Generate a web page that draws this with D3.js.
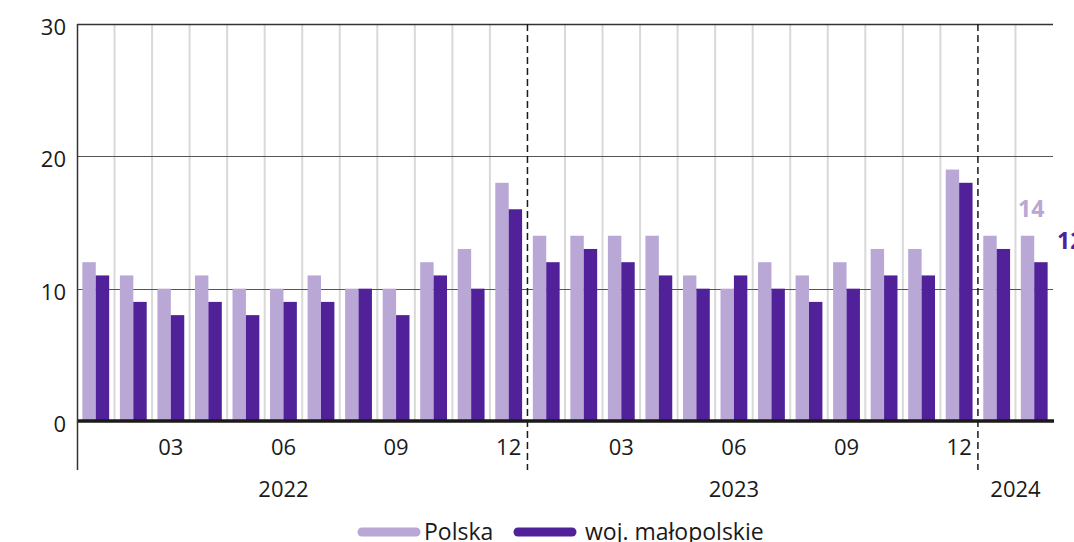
<!DOCTYPE html>
<html>
<head>
<meta charset="utf-8">
<script src="https://cdn.jsdelivr.net/npm/d3@7"></script>
<style>
  body { margin: 0; background: #fff; }
  svg { display: block; font-family: "Open Sans", sans-serif; }
</style>
</head>
<body>
<svg id="chart" width="1074" height="542"></svg>
<script>
// months Jan 2022 - Feb 2024
const months = [
  "2022-01","2022-02","2022-03","2022-04","2022-05","2022-06","2022-07","2022-08","2022-09","2022-10","2022-11","2022-12",
  "2023-01","2023-02","2023-03","2023-04","2023-05","2023-06","2023-07","2023-08","2023-09","2023-10","2023-11","2023-12",
  "2024-01","2024-02"
];
const polska = [12,11,10,11,10,10,11,10,10,12,13,18, 14,14,14,14,11,10,12,11,12,13,13,19, 14,14];
const malopolskie = [11,9,8,9,8,9,9,10,8,11,10,16, 12,13,12,11,10,11,10,9,10,11,11,18, 13,12];
const seriesNames = ["Polska", "woj. małopolskie"];
const yTicks = [0, 10, 20, 30];
const monthTicks = ["03", "06", "09", "12"];
const yearLabels = [
  {label: "2022", from: "2022-06", to: "2022-06"},
  {label: "2023", from: "2023-06", to: "2023-06"},
  {label: "2024", from: "2024-01", to: "2024-02"}
];
const yearBreaks = ["2023-01", "2024-01"];

const lightColor = "#b9a7d6";
const darkColor = "#51219a";
const colors = [lightColor, darkColor];

const margin = {top: 24, left: 77, right: 21, bottom: 121};
const W = 1074, H = 542;
const innerW = W - margin.left - margin.right;
const innerH = H - margin.top - margin.bottom;

const svg = d3.select("#chart");
const g = svg.append("g").attr("transform", `translate(${margin.left},${margin.top})`);

const data = months.map((m, i) => ({month: m, values: [polska[i], malopolskie[i]]}));

// SCALES
const x = d3.scaleBand().domain(months).range([0, innerW]).padding(0);
const xSub = d3.scaleBand().domain([0, 1]).range([0, x.bandwidth()]).paddingInner(0).paddingOuter(0.4);
const y = d3.scaleLinear().domain([0, 30]).range([innerH, 0]);

// vertical month grid
g.selectAll(".vgrid")
  .data(months.slice(1).filter(m => !yearBreaks.includes(m)))
  .join("line")
  .attr("x1", d => x(d)).attr("x2", d => x(d))
  .attr("y1", 0).attr("y2", innerH)
  .attr("stroke", "#d9d9d9").attr("stroke-width", 2);

// horizontal grid
g.selectAll(".hgrid")
  .data(yTicks.filter(t => t > 0))
  .join("line")
  .attr("x1", 0).attr("x2", innerW)
  .attr("y1", d => Math.round(y(d)) + 0.5).attr("y2", d => Math.round(y(d)) + 0.5)
  .attr("stroke", d => d === 30 ? "#333" : "#555")
  .attr("stroke-width", d => d === 30 ? 1.5 : 1);

// y labels
g.selectAll(".ylab")
  .data(yTicks)
  .join("text")
  .attr("x", -11)
  .attr("y", d => y(d) + 11)
  .attr("text-anchor", "end")
  .attr("font-size", 22)
  .attr("fill", "#1a1a1a")
  .text(d => d);

// BARS
const groups = g.selectAll(".grp")
  .data(data)
  .join("g")
  .attr("transform", d => `translate(${x(d.month)},0)`);

groups.selectAll("rect")
  .data(d => d.values)
  .join("rect")
  .attr("x", (d, i) => xSub(i))
  .attr("width", xSub.bandwidth())
  .attr("y", d => y(d))
  .attr("height", d => innerH - y(d))
  .attr("fill", (d, i) => colors[i]);

// zero line
g.append("line")
  .attr("x1", 0).attr("x2", innerW + 1)
  .attr("y1", y(0)).attr("y2", y(0))
  .attr("stroke", "#1a1a1a").attr("stroke-width", 3.5);

// left axis line
g.append("line")
  .attr("x1", 0.5).attr("x2", 0.5)
  .attr("y1", 0).attr("y2", innerH + 49)
  .attr("stroke", "#333").attr("stroke-width", 1.5);

// year dashed separators
g.selectAll(".ybreak")
  .data(yearBreaks)
  .join("line")
  .attr("x1", d => x(d)).attr("x2", d => x(d))
  .attr("y1", 0).attr("y2", innerH + 49)
  .attr("stroke", "#1a1a1a").attr("stroke-width", 1.5)
  .attr("stroke-dasharray", "7,4");

// month tick labels
g.selectAll(".mlab")
  .data(months.filter(m => monthTicks.includes(m.slice(5))))
  .join("text")
  .attr("x", d => x(d) + x.bandwidth() / 2)
  .attr("y", innerH + 34)
  .attr("text-anchor", "middle")
  .attr("font-size", 22)
  .attr("fill", "#1a1a1a")
  .text(d => d.slice(5));

// year labels
g.selectAll(".yearlab")
  .data(yearLabels)
  .join("text")
  .attr("x", d => (x(d.from) + x(d.to) + x.bandwidth()) / 2)
  .attr("y", innerH + 76)
  .attr("text-anchor", "middle")
  .attr("font-size", 22)
  .attr("fill", "#1a1a1a")
  .text(d => d.label);

// last values
const last = data[data.length - 1];
g.append("text")
  .attr("x", x(last.month) + x.bandwidth() / 2 - 3)
  .attr("y", y(last.values[0]) - 19)
  .attr("text-anchor", "middle")
  .attr("font-size", 23).attr("font-weight", "bold")
  .attr("fill", lightColor)
  .text(last.values[0]);

g.append("text")
  .attr("x", x(last.month) + x.bandwidth() + 4)
  .attr("y", y(last.values[1]) - 13)
  .attr("font-size", 23).attr("font-weight", "bold")
  .attr("fill", darkColor)
  .text(last.values[1]);

// LEGEND
const legend = svg.append("g").attr("transform", "translate(358,532)");
const legendX = [0, 156];
seriesNames.forEach((name, i) => {
  legend.append("line")
    .attr("x1", legendX[i] + 4).attr("x2", legendX[i] + 58)
    .attr("y1", 0).attr("y2", 0)
    .attr("stroke", colors[i]).attr("stroke-width", 9)
    .attr("stroke-linecap", "round");
  legend.append("text")
    .attr("x", legendX[i] + (i === 0 ? 66 : 71))
    .attr("y", 8)
    .attr("font-size", 23)
    .attr("fill", "#1a1a1a")
    .text(name);
});
</script>
</body>
</html>
